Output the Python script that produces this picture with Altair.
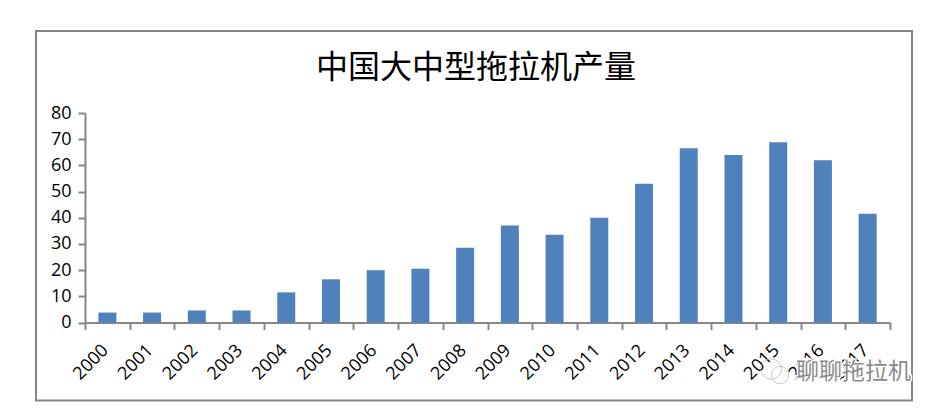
import altair as alt
import pandas as pd

years = ["2000","2001","2002","2003","2004","2005","2006","2007","2008","2009","2010","2011","2012","2013","2014","2015","2016","2017"]
values = [3.8,3.8,4.6,4.6,11.5,16.5,20,20.5,28.5,37,33.5,40,53,66.5,64,68.8,62,41.5]
title_text = ["中国大中型拖拉机产量"]
mark_text = ["聊聊拖拉机"]
y_ticks = [0,10,20,30,40,50,60,70,80]
AXIS = "#868686"
FONT = "Open Sans"
CJK = "Noto Sans CJK SC"

df = pd.DataFrame({"year": years, "value": values})
one = pd.DataFrame({"a": [0]})

bars = alt.Chart(df).mark_bar(color="#4F81BD", size=18).encode(
    x=alt.X("year:N", sort=years, title=None,
            scale=alt.Scale(paddingInner=0, paddingOuter=0),
            axis=alt.Axis(labelAngle=-45, labelAlign="right", labelBaseline="middle",
                          labelFont=FONT, labelFontSize=18, labelColor="#000000",
                          labelPadding=18, labelOffset=-2, tickBand="extent", tickSize=7, tickWidth=2,
                          tickColor=AXIS, domainColor=AXIS, domainWidth=2, grid=False)),
    y=alt.Y("value:Q", title=None,
            scale=alt.Scale(domain=[0, 80], nice=False),
            axis=alt.Axis(values=y_ticks, labelFont=FONT, labelFontSize=18, labelColor="#000000",
                          labelPadding=7, tickSize=7, tickWidth=2, tickColor=AXIS,
                          domainColor=AXIS, domainWidth=2, grid=False)),
)

frame = alt.Chart(one).mark_rect(
    fill="transparent", stroke=AXIS, strokeWidth=2, clip=False
).encode(x=alt.value(-49), x2=alt.value(827), y=alt.value(-82), y2=alt.value(287.5))

title = alt.Chart(pd.DataFrame({"t": title_text})).mark_text(
    font=CJK, fontSize=32, color="#000000", align="center", baseline="middle"
).encode(text="t:N", x=alt.value(391), y=alt.value(-45))

bubble_big = alt.Chart(one).mark_point(
    shape="circle", size=420, filled=False, stroke="#b5b5b5", strokeWidth=1
).encode(x=alt.value(686), y=alt.value(256))
bubble_small = alt.Chart(one).mark_point(
    shape="circle", size=300, filled=False, stroke="#b5b5b5", strokeWidth=1
).encode(x=alt.value(695), y=alt.value(262))

water_halo = alt.Chart(pd.DataFrame({"t": mark_text})).mark_text(
    font=CJK, fontSize=23, stroke="white", strokeWidth=3, align="right", baseline="middle"
).encode(text="t:N", x=alt.value(826), y=alt.value(259))
water = alt.Chart(pd.DataFrame({"t": mark_text})).mark_text(
    font=CJK, fontSize=23, color="#8a8a8a", align="right", baseline="middle"
).encode(text="t:N", x=alt.value(826), y=alt.value(259))

chart = alt.layer(bars, frame, title, bubble_big, bubble_small, water_halo, water).properties(
    width=805, height=209.5,
    padding={"left": 27, "top": 22, "right": 5, "bottom": 5},
    background="white",
).configure_view(stroke=None)

chart.save("out.html", embed_options={"renderer": "svg", "actions": False})
